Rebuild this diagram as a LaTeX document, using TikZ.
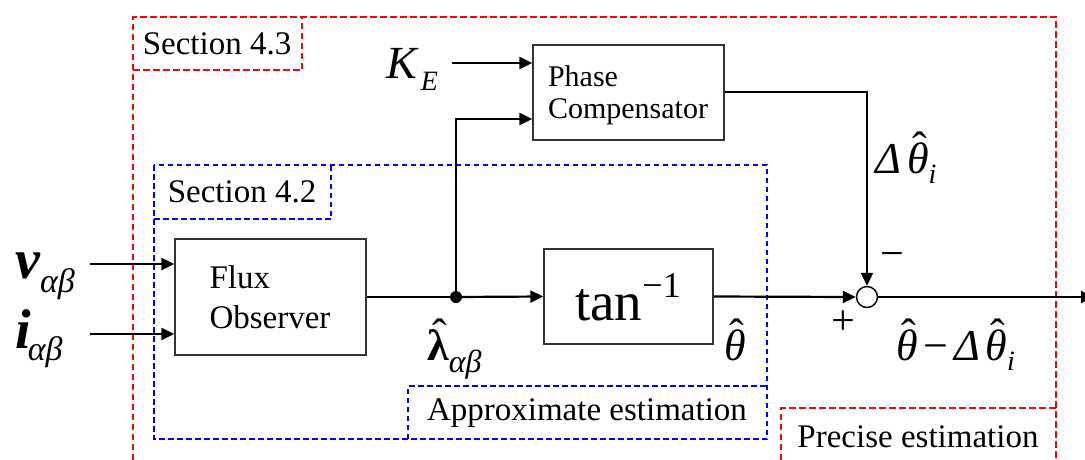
\documentclass[tikz,border=0pt]{standalone}
\usepackage{fontspec}
\setmainfont{Liberation Serif}
\usetikzlibrary{arrows.meta}
\newsavebox\hatbx
\newcommand\hatof[2][0.24em]{\sbox\hatbx{#2}\leavevmode\rlap{\hbox to\wd\hatbx{\hss\kern0.08em\raisebox{#1}{\upshape\mdseries ˆ}\hss}}\usebox\hatbx}
\tikzset{
  blk/.style={draw=black!80, line width=1.3pt, inner sep=0pt},
  wire/.style={line width=2.2pt},
  sig/.style={line width=2.2pt, -{Triangle[length=13pt,width=12pt]}},
  redframe/.style={draw=red, line width=2pt, dash pattern=on 6.5pt off 3.5pt},
  blueframe/.style={draw=blue, line width=2pt, dash pattern=on 5.5pt off 3.5pt},
  lbl/.style={font=\fontsize{33}{40}\selectfont, inner sep=0pt},
  small/.style={font=\fontsize{30}{32}\selectfont, inner sep=0pt},
  mth/.style={font=\fontsize{44}{48}\selectfont, inner sep=0pt},
}
\begin{document}
\begin{tikzpicture}[x=1pt,y=-1pt]
\useasboundingbox (0,0) rectangle (1085,459);
% frames
\draw[redframe] (133,470) -- (133,17) -- (1056,17) -- (1056,470);
\draw[redframe] (133,70) -- (302,70) -- (302,17);
\draw[redframe] (781,470) -- (781,408) -- (1056,408);
\draw[blueframe] (154,165) rectangle (767,439);
\draw[blueframe] (154,219) -- (331,219) -- (331,165);
\draw[blueframe] (408,439) -- (408,386) -- (767,386);
\node[lbl] (s43) at (217,44) {Section 4.3};
\node[lbl] (s42) at (242,192) {Section 4.2};
\node[lbl] (appr) at (587,413) {Approximate estimation};
\node[lbl] (prec) at (918,437) {Precise estimation};
% blocks
\node[blk, minimum width=191pt, minimum height=116pt] (flux) at (270.5,297) {};
\node[lbl, align=left] (fluxt) at (270,297) {Flux\\Observer};
\node[blk, minimum width=191pt, minimum height=95pt] (phase) at (628.5,92.5) {};
\node[small, align=left] (phaset) at (628,95) {Phase\\Compensator};
\node[blk, minimum width=169pt, minimum height=95pt] (tan) at (628.5,296.5) {};
\node[inner sep=0pt, anchor=base] (tant) at (628,320) {\fontsize{55}{60}\selectfont tan\raisebox{23pt}{\fontsize{36}{40}\selectfont −1}};
\node[draw=black, line width=1.4pt, circle, minimum size=21pt, inner sep=0pt, fill=white] (sum) at (867,297) {};
\fill (456,297) circle (6pt) coordinate (dot);
% inputs
\coordinate (vin) at (90,264);
\coordinate (iin) at (90,334);
\coordinate (kin) at (452,63);
\coordinate (out) at (1094,297);
\node[inner sep=0pt, anchor=base west] (vl) at (15,278) {\fontsize{56}{60}\selectfont\bfseries\itshape v\raisebox{-14pt}{\fontsize{34}{36}\selectfont\mdseries αβ}};
\node[inner sep=0pt, anchor=base west] (il) at (15,348) {\fontsize{56}{60}\selectfont\bfseries\itshape i\kern-3pt\raisebox{-12pt}{\fontsize{34}{36}\selectfont\mdseries αβ}};
\node[inner sep=0pt, anchor=base west] (kl) at (386,78) {\fontsize{46}{50}\selectfont\itshape K\kern4pt\raisebox{-12pt}{\fontsize{28}{30}\selectfont E}};
% connectors
\draw[sig] (vin) -- (vin -| flux.west);
\draw[sig] (iin) -- (iin -| flux.west);
\draw[sig] (kin) -- (kin -| phase.west);
\draw[wire] (flux.east) -- (dot);
\draw[sig] (dot) -- (tan.west);
\draw[sig] (dot) |- ([yshift=-26.5pt]phase.west);
\draw[sig] (tan.east) -- (sum.west);
\draw[sig] ([yshift=0.5pt]phase.east) -| (sum.north);
\draw[sig] (sum.east) -- (out);
% signal labels
\node[mth, anchor=base west] (lam) at (427,360) {\bfseries\hatof{λ}\raisebox{-12pt}{\fontsize{32}{34}\selectfont\itshape\mdseries αβ}};
\node[mth, anchor=base west] (th) at (724,360) {\hatof{\itshape θ}};
\node[mth, anchor=base west] (dth) at (875,173) {\itshape Δ\kern6pt\hatof{\itshape θ}\raisebox{-10pt}{\fontsize{28}{30}\selectfont i}};
\node[mth, anchor=base west] (res) at (896,360) {\hatof{\itshape θ}\kern6pt\upshape −\kern6pt\itshape Δ\kern5pt\hatof{\itshape θ}\raisebox{-10pt}{\fontsize{28}{30}\selectfont i}};
\node[font=\fontsize{42}{44}\selectfont, inner sep=0pt] (plus) at (843,323) {+};
\node[font=\fontsize{42}{44}\selectfont, inner sep=0pt] (minus) at (892,260) {−};
\end{tikzpicture}
\end{document}
